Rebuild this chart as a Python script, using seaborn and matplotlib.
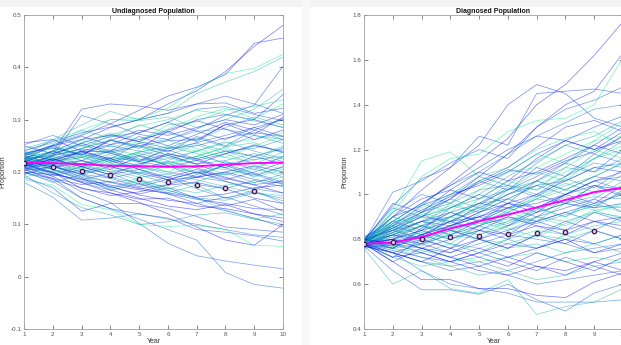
import numpy as np
import pandas as pd
import matplotlib
matplotlib.use("Agg")
import matplotlib.pyplot as plt
from matplotlib.patches import Rectangle
import seaborn as sns

years = list(range(1, 11))

undiag_runs = [
    [0.220,0.240,0.262,0.285,0.300,0.330,0.355,0.392,0.440,0.480],
    [0.230,0.252,0.270,0.292,0.318,0.345,0.362,0.386,0.446,0.456],
    [0.222,0.238,0.320,0.330,0.326,0.318,0.330,0.332,0.312,0.322],
    [0.212,0.232,0.308,0.292,0.272,0.262,0.282,0.308,0.328,0.402],
    [0.224,0.250,0.280,0.300,0.302,0.322,0.360,0.388,0.398,0.425],
    [0.232,0.262,0.290,0.316,0.300,0.312,0.350,0.372,0.392,0.420],
    [0.210,0.192,0.162,0.142,0.102,0.064,0.040,0.030,0.022,0.015],
    [0.200,0.182,0.150,0.130,0.110,0.090,0.070,0.008,-0.015,-0.022],
    [0.215,0.200,0.168,0.160,0.142,0.120,0.095,0.070,0.060,0.100],
    [0.205,0.188,0.150,0.130,0.120,0.112,0.090,0.085,0.078,0.068],
    [0.185,0.175,0.138,0.128,0.100,0.096,0.098,0.090,0.060,0.058],
    [0.180,0.152,0.108,0.112,0.120,0.110,0.100,0.090,0.080,0.075],
    [0.190,0.170,0.125,0.140,0.140,0.130,0.115,0.095,0.090,0.085],
    [0.195,0.160,0.132,0.118,0.100,0.105,0.118,0.122,0.110,0.100],
    [0.208,0.200,0.180,0.160,0.148,0.150,0.135,0.130,0.120,0.105],
    [0.218,0.226,0.240,0.252,0.262,0.276,0.300,0.310,0.300,0.348],
    [0.226,0.240,0.260,0.248,0.258,0.290,0.296,0.318,0.325,0.338],
    [0.236,0.246,0.232,0.260,0.280,0.270,0.285,0.300,0.290,0.310],
    [0.242,0.255,0.272,0.300,0.298,0.305,0.285,0.300,0.320,0.358],
    [0.252,0.270,0.250,0.268,0.275,0.295,0.320,0.325,0.310,0.298],
    [0.256,0.262,0.240,0.238,0.250,0.260,0.262,0.290,0.300,0.285],
    [0.215,0.222,0.230,0.220,0.232,0.245,0.255,0.240,0.245,0.262],
    [0.220,0.210,0.215,0.228,0.220,0.235,0.225,0.240,0.230,0.245],
    [0.212,0.220,0.200,0.210,0.225,0.215,0.230,0.218,0.210,0.228],
    [0.225,0.232,0.244,0.236,0.220,0.210,0.222,0.235,0.250,0.240],
    [0.218,0.210,0.198,0.205,0.190,0.196,0.210,0.205,0.195,0.210],
    [0.208,0.215,0.222,0.210,0.198,0.185,0.190,0.200,0.212,0.200],
    [0.222,0.205,0.192,0.180,0.186,0.170,0.160,0.175,0.180,0.190],
    [0.214,0.224,0.210,0.195,0.205,0.220,0.208,0.190,0.176,0.182],
    [0.230,0.225,0.236,0.250,0.240,0.228,0.215,0.222,0.235,0.220],
    [0.200,0.195,0.186,0.175,0.166,0.160,0.152,0.158,0.170,0.175],
    [0.226,0.240,0.228,0.215,0.210,0.196,0.185,0.172,0.160,0.155],
    [0.235,0.250,0.262,0.270,0.258,0.245,0.250,0.265,0.275,0.268],
    [0.210,0.198,0.210,0.225,0.238,0.250,0.240,0.255,0.262,0.275],
    [0.198,0.188,0.176,0.182,0.170,0.158,0.148,0.140,0.130,0.128],
    [0.224,0.218,0.205,0.190,0.178,0.165,0.150,0.146,0.160,0.150],
    [0.216,0.230,0.245,0.260,0.250,0.240,0.256,0.270,0.285,0.300],
    [0.220,0.236,0.250,0.238,0.225,0.216,0.200,0.195,0.205,0.196],
    [0.205,0.185,0.170,0.155,0.162,0.175,0.180,0.168,0.150,0.140],
    [0.228,0.220,0.228,0.240,0.255,0.262,0.278,0.282,0.270,0.262],
    [0.240,0.258,0.275,0.286,0.300,0.312,0.330,0.345,0.330,0.312],
    [0.217,0.205,0.188,0.166,0.150,0.135,0.128,0.138,0.120,0.112],
    [0.211,0.218,0.228,0.244,0.232,0.218,0.230,0.248,0.256,0.236],
    [0.219,0.212,0.196,0.188,0.200,0.190,0.176,0.168,0.184,0.172],
    [0.226,0.214,0.220,0.210,0.216,0.226,0.240,0.228,0.218,0.205],
    [0.203,0.210,0.195,0.180,0.168,0.176,0.190,0.200,0.186,0.178],
    [0.232,0.245,0.235,0.222,0.238,0.248,0.236,0.216,0.224,0.230],
    [0.214,0.198,0.182,0.172,0.156,0.146,0.140,0.126,0.112,0.095],
    [0.222,0.232,0.244,0.270,0.288,0.300,0.318,0.310,0.298,0.285],
    [0.209,0.225,0.212,0.200,0.210,0.200,0.190,0.182,0.168,0.160],
    [0.230,0.215,0.240,0.225,0.255,0.238,0.268,0.250,0.280,0.262],
    [0.212,0.228,0.205,0.222,0.198,0.218,0.196,0.214,0.190,0.205],
    [0.225,0.250,0.232,0.262,0.245,0.278,0.258,0.292,0.272,0.305],
    [0.200,0.180,0.195,0.170,0.185,0.160,0.175,0.150,0.165,0.140],
    [0.218,0.240,0.222,0.205,0.230,0.212,0.190,0.215,0.198,0.180],
    [0.238,0.222,0.210,0.232,0.218,0.200,0.225,0.240,0.222,0.248],
    [0.210,0.232,0.255,0.240,0.268,0.250,0.272,0.295,0.280,0.302],
    [0.226,0.205,0.185,0.198,0.176,0.190,0.168,0.150,0.162,0.145],
    [0.205,0.222,0.240,0.225,0.212,0.235,0.222,0.208,0.230,0.215],
    [0.245,0.260,0.280,0.265,0.290,0.275,0.260,0.285,0.305,0.290],
    [0.215,0.195,0.210,0.226,0.205,0.185,0.200,0.182,0.166,0.185],
    [0.228,0.248,0.235,0.218,0.240,0.260,0.245,0.228,0.250,0.270],
    [0.195,0.212,0.190,0.172,0.158,0.170,0.150,0.135,0.148,0.125],
    [0.220,0.235,0.252,0.236,0.220,0.246,0.265,0.248,0.270,0.255],
    [0.232,0.215,0.200,0.215,0.232,0.212,0.198,0.220,0.205,0.230],
    [0.190,0.205,0.185,0.168,0.182,0.165,0.150,0.128,0.110,0.120],
    [0.250,0.235,0.255,0.272,0.258,0.280,0.298,0.282,0.262,0.280],
    [0.214,0.230,0.215,0.235,0.250,0.232,0.215,0.195,0.210,0.190],
    [0.208,0.192,0.205,0.188,0.172,0.186,0.200,0.185,0.200,0.218],
    [0.222,0.238,0.256,0.275,0.262,0.282,0.305,0.322,0.302,0.330],
    [0.236,0.222,0.238,0.222,0.205,0.190,0.205,0.188,0.175,0.160],
    [0.203,0.218,0.234,0.218,0.236,0.222,0.240,0.258,0.240,0.225],
    [0.218,0.198,0.180,0.165,0.178,0.158,0.140,0.152,0.135,0.118],
    [0.240,0.226,0.245,0.262,0.248,0.232,0.252,0.235,0.215,0.238],
    [0.210,0.225,0.210,0.195,0.215,0.232,0.215,0.235,0.252,0.238],
    [0.228,0.212,0.195,0.210,0.195,0.178,0.195,0.212,0.196,0.176],
    [0.196,0.210,0.228,0.212,0.196,0.212,0.230,0.246,0.228,0.250],
    [0.233,0.250,0.268,0.252,0.275,0.295,0.278,0.262,0.285,0.268],
    [0.216,0.200,0.215,0.200,0.185,0.168,0.182,0.198,0.180,0.196],
    [0.224,0.208,0.222,0.240,0.222,0.242,0.225,0.208,0.192,0.210],
]

diag_runs = [
    [0.780,0.860,0.950,1.050,1.150,1.250,1.400,1.490,1.620,1.770],
    [0.790,0.840,0.900,0.980,1.080,1.180,1.300,1.400,1.460,1.630],
    [0.780,0.900,1.020,1.120,1.220,1.400,1.490,1.450,1.340,1.300],
    [0.790,0.950,1.070,1.120,1.260,1.220,1.450,1.460,1.470,1.450],
    [0.780,0.930,1.150,1.190,1.080,1.120,1.200,1.250,1.280,1.220],
    [0.760,0.600,0.660,0.580,0.560,0.620,0.465,0.500,0.520,0.580],
    [0.770,0.660,0.575,0.575,0.555,0.600,0.530,0.480,0.560,0.600],
    [0.780,0.740,0.660,0.600,0.580,0.560,0.520,0.520,0.520,0.530],
    [0.780,0.700,0.620,0.620,0.580,0.580,0.550,0.540,0.610,0.650],
    [0.790,1.010,1.060,1.140,1.200,1.160,1.300,1.380,1.420,1.480],
    [0.800,0.920,1.080,1.160,1.180,1.280,1.330,1.340,1.400,1.610],
    [0.780,0.880,0.960,1.040,1.100,1.180,1.260,1.320,1.380,1.400],
    [0.790,0.850,0.920,0.980,1.060,1.120,1.210,1.300,1.330,1.280],
    [0.770,0.820,0.880,0.940,1.000,1.080,1.150,1.220,1.260,1.330],
    [0.800,0.900,0.950,1.000,1.040,1.100,1.180,1.240,1.200,1.240],
    [0.780,0.810,0.860,0.900,0.960,1.020,1.080,1.140,1.220,1.300],
    [0.790,0.880,0.900,0.950,0.920,0.980,1.040,1.100,1.160,1.200],
    [0.780,0.830,0.880,0.860,0.920,0.960,1.000,1.060,1.120,1.100],
    [0.770,0.800,0.840,0.900,0.940,0.920,0.980,1.040,1.080,1.140],
    [0.810,0.860,0.820,0.880,0.930,1.000,1.060,1.020,1.080,1.060],
    [0.780,0.760,0.820,0.860,0.900,0.960,0.940,1.000,1.040,1.020],
    [0.790,0.820,0.860,0.840,0.880,0.920,0.980,0.960,0.990,0.980],
    [0.780,0.800,0.780,0.820,0.860,0.900,0.880,0.920,0.960,1.000],
    [0.770,0.790,0.830,0.800,0.840,0.880,0.920,0.960,0.930,0.950],
    [0.800,0.840,0.880,0.920,0.960,0.940,0.900,0.940,0.980,0.920],
    [0.780,0.770,0.800,0.840,0.820,0.860,0.900,0.880,0.920,0.900],
    [0.760,0.780,0.760,0.800,0.840,0.820,0.860,0.840,0.880,0.860],
    [0.790,0.760,0.740,0.780,0.760,0.800,0.840,0.820,0.860,0.880],
    [0.780,0.750,0.720,0.700,0.740,0.780,0.760,0.800,0.780,0.820],
    [0.770,0.740,0.700,0.680,0.700,0.660,0.700,0.740,0.760,0.780],
    [0.780,0.720,0.740,0.700,0.660,0.640,0.680,0.660,0.700,0.740],
    [0.790,0.760,0.720,0.680,0.640,0.660,0.620,0.640,0.680,0.700],
    [0.780,0.740,0.700,0.660,0.680,0.640,0.600,0.620,0.640,0.660],
    [0.800,0.870,0.940,1.000,1.060,1.100,1.120,1.180,1.240,1.260],
    [0.790,0.900,0.980,1.020,0.980,1.060,1.100,1.160,1.220,1.180],
    [0.780,0.860,0.920,0.960,1.020,1.040,1.020,1.080,1.140,1.120],
    [0.770,0.840,0.900,0.880,0.940,1.000,1.040,1.000,1.060,1.080],
    [0.780,0.820,0.860,0.920,0.880,0.940,0.980,1.020,1.000,1.040],
    [0.790,0.800,0.840,0.880,0.900,0.860,0.920,0.960,0.940,0.960],
    [0.780,0.790,0.810,0.850,0.870,0.890,0.870,0.910,0.950,0.940],
    [0.810,0.880,0.960,1.040,1.120,1.200,1.260,1.240,1.300,1.350],
    [0.780,0.870,0.930,0.990,1.050,1.110,1.090,1.150,1.190,1.260],
    [0.770,0.760,0.780,0.820,0.800,0.780,0.820,0.800,0.840,0.800],
    [0.780,0.800,0.760,0.740,0.780,0.820,0.800,0.780,0.740,0.760],
    [0.790,0.770,0.750,0.720,0.700,0.720,0.740,0.700,0.720,0.700],
    [0.780,0.820,0.800,0.760,0.800,0.840,0.880,0.920,0.880,0.900],
    [0.800,0.850,0.900,0.940,0.980,1.020,1.060,1.120,1.100,1.160],
    [0.780,0.780,0.820,0.860,0.900,0.940,0.960,1.000,1.060,1.100],
    [0.770,0.720,0.680,0.700,0.720,0.760,0.780,0.740,0.780,0.820],
    [0.790,0.830,0.880,0.900,0.960,0.980,1.040,1.060,1.120,1.140],
    [0.790,0.880,0.840,0.940,1.000,0.960,1.060,1.140,1.100,1.200],
    [0.780,0.830,0.920,0.880,0.980,1.060,1.020,1.120,1.200,1.160],
    [0.800,0.760,0.850,0.920,0.880,0.960,0.920,1.000,0.960,1.040],
    [0.770,0.850,0.800,0.900,0.960,1.040,1.000,1.080,1.160,1.240],
    [0.780,0.720,0.800,0.760,0.840,0.800,0.880,0.840,0.920,0.880],
    [0.790,0.900,0.860,0.960,0.920,1.020,1.100,1.060,1.160,1.220],
    [0.780,0.820,0.780,0.740,0.800,0.760,0.820,0.780,0.840,0.800],
    [0.800,0.940,0.900,1.000,1.080,1.040,1.140,1.220,1.180,1.260],
    [0.770,0.740,0.700,0.760,0.720,0.680,0.740,0.700,0.660,0.720],
    [0.780,0.860,0.820,0.780,0.860,0.920,0.880,0.960,1.040,1.000],
    [0.790,0.770,0.840,0.800,0.860,0.820,0.900,0.980,0.940,1.020],
    [0.780,0.880,0.960,0.920,1.020,1.100,1.180,1.140,1.240,1.320],
    [0.800,0.780,0.740,0.700,0.740,0.700,0.660,0.720,0.680,0.640],
    [0.770,0.820,0.880,0.840,0.800,0.860,0.940,0.900,0.980,1.060],
    [0.780,0.920,1.000,0.960,1.060,1.020,1.120,1.080,1.180,1.140],
    [0.790,0.810,0.770,0.830,0.890,0.850,0.810,0.870,0.930,0.890],
    [0.780,0.700,0.760,0.720,0.680,0.720,0.680,0.640,0.700,0.660],
    [0.800,0.860,0.920,0.980,0.940,1.000,1.060,1.020,1.080,1.140],
    [0.770,0.800,0.860,0.820,0.880,0.940,1.000,0.960,1.040,0.990],
    [0.780,0.840,0.800,0.860,0.820,0.880,0.940,0.900,0.960,0.920],
    [0.790,0.960,0.920,1.020,1.100,1.060,1.160,1.240,1.200,1.280],
    [0.780,0.760,0.820,0.780,0.740,0.800,0.760,0.820,0.780,0.740],
    [0.800,0.840,0.800,0.860,0.920,0.980,0.940,1.000,1.060,1.020],
    [0.770,0.870,0.830,0.900,0.860,0.930,0.990,1.050,1.010,1.090],
    [0.780,0.800,0.760,0.720,0.760,0.720,0.760,0.800,0.740,0.780],
    [0.790,0.850,0.910,0.870,0.950,1.030,0.990,1.070,1.030,1.110],
    [0.780,0.900,0.860,0.820,0.880,0.840,0.900,0.860,0.920,0.960],
    [0.800,0.780,0.820,0.880,0.840,0.900,0.860,0.820,0.880,0.840],
    [0.770,0.830,0.790,0.850,0.910,0.870,0.930,0.990,0.950,1.010],
    [0.780,0.740,0.780,0.840,0.800,0.760,0.820,0.880,0.840,0.900],
]

# colour position of each run along the blue -> aquamarine ramp
run_shades = [0.05, 0.1, 0.15, 0.2, 0.9, 0.7, 0.3, 0.35, 0.0, 0.25,
              0.95, 0.4, 0.15, 0.6, 0.05, 0.2, 0.85, 0.1, 0.75, 0.3,
              0.0, 0.55, 0.1, 0.9, 0.2, 0.65, 0.05, 0.8, 0.15, 0.45,
              0.0, 0.7, 0.25, 0.95, 0.1, 0.5, 0.3, 0.85, 0.05, 0.6,
              0.2, 0.0, 0.75, 0.35, 0.9, 0.15, 0.55, 0.1, 0.8, 0.4,
              0.3, 0.9, 0.05, 0.6, 0.2, 0.85, 0.1, 0.45, 0.0, 0.7,
              0.25, 0.95, 0.15, 0.5, 0.35, 0.8, 0.05, 0.65, 0.2, 0.9,
              0.1, 0.55, 0.3, 0.75, 0.0, 0.4, 0.85, 0.15, 0.6, 0.25]

undiag_mean = [0.218, 0.217, 0.215, 0.212, 0.211, 0.210, 0.211, 0.214, 0.217, 0.218]
diag_mean = [0.780, 0.785, 0.810, 0.848, 0.880, 0.910, 0.942, 0.975, 1.010, 1.030]

undiag_obs = [0.218, 0.210, 0.201, 0.194, 0.187, 0.181, 0.176, 0.170, 0.164]
diag_obs = [0.780, 0.790, 0.800, 0.808, 0.815, 0.822, 0.826, 0.832, 0.838]
obs_years = list(range(1, 10))

titles = ["Undiagnosed Population", "Diagnosed Population"]


def long_frame(runs):
    rows = []
    for i, r in enumerate(runs):
        for y, v in zip(years, r):
            rows.append((i, y, v))
    return pd.DataFrame(rows, columns=["run", "Year", "Proportion"])


sns.set_theme(style="white")
plt.rcParams["font.family"] = ["Liberation Sans", "DejaVu Sans"]

fig = plt.figure(figsize=(6.21, 3.45), dpi=100)
fig.patch.set_facecolor("white")
fig.patches.append(Rectangle((0, 1 - 7 / 345), 1, 7 / 345, transform=fig.transFigure,
                             facecolor="#f3f3f3", edgecolor="none", zorder=-10))
fig.patches.append(Rectangle((302 / 621, 0), 8 / 621, 1, transform=fig.transFigure,
                             facecolor="#f8f8f8", edgecolor="none", zorder=-10))

ax_w = 259 / 621
ax_h = (329 - 15) / 345
ax_b = 1 - 329 / 345
ax1 = fig.add_axes([24 / 621, ax_b, ax_w, ax_h])
ax2 = fig.add_axes([364 / 621, ax_b, ax_w, ax_h])

cmap = matplotlib.colormaps["winter"]
palette = [cmap(s) for s in run_shades]

panels = [
    (ax1, undiag_runs, undiag_mean, undiag_obs, (-0.1, 0.5), [-0.1, 0, 0.1, 0.2, 0.3, 0.4, 0.5],
     ["-0.1", "0", "0.1", "0.2", "0.3", "0.4", "0.5"]),
    (ax2, diag_runs, diag_mean, diag_obs, (0.4, 1.8), [0.4, 0.6, 0.8, 1.0, 1.2, 1.4, 1.6, 1.8],
     ["0.4", "0.6", "0.8", "1", "1.2", "1.4", "1.6", "1.8"]),
]

for (ax, runs, mean, obs, ylim, yt, ytl), title in zip(panels, titles):
    df = long_frame(runs)
    sns.lineplot(data=df, x="Year", y="Proportion", hue="run", palette=palette[:len(runs)],
                 estimator=None, legend=False, linewidth=0.55, alpha=0.5, ax=ax)
    sns.lineplot(x=years, y=mean, color="#ff00ff", linewidth=1.4, ax=ax, zorder=5)
    ax.plot(obs_years, obs, linestyle="none", marker="o", markersize=3.2,
            markerfacecolor="#d8c8e8", markeredgecolor="#3a1850", markeredgewidth=0.9, zorder=6)
    ax.set_xlim(1, 10)
    ax.set_ylim(*ylim)
    ax.set_xticks(years)
    ax.set_xticklabels([str(y) for y in years])
    ax.set_yticks(yt)
    ax.set_yticklabels(ytl)
    ax.tick_params(direction="in", length=3, width=0.5, colors="#555555", labelsize=4.5,
                   top=True, right=True, bottom=True, left=True, pad=2)
    for s in ax.spines.values():
        s.set_color("#a0a0a0")
        s.set_linewidth(0.6)
    ax.set_xlabel("Year", fontsize=5, color="#333333", labelpad=1)
    ax.set_ylabel("Proportion", fontsize=5, color="#333333", labelpad=3)
    ax.set_title(title, fontsize=5, fontweight="bold", pad=1.5, color="#111111")
    ax.set_facecolor("white")

fig.savefig("out.png", dpi=100)
